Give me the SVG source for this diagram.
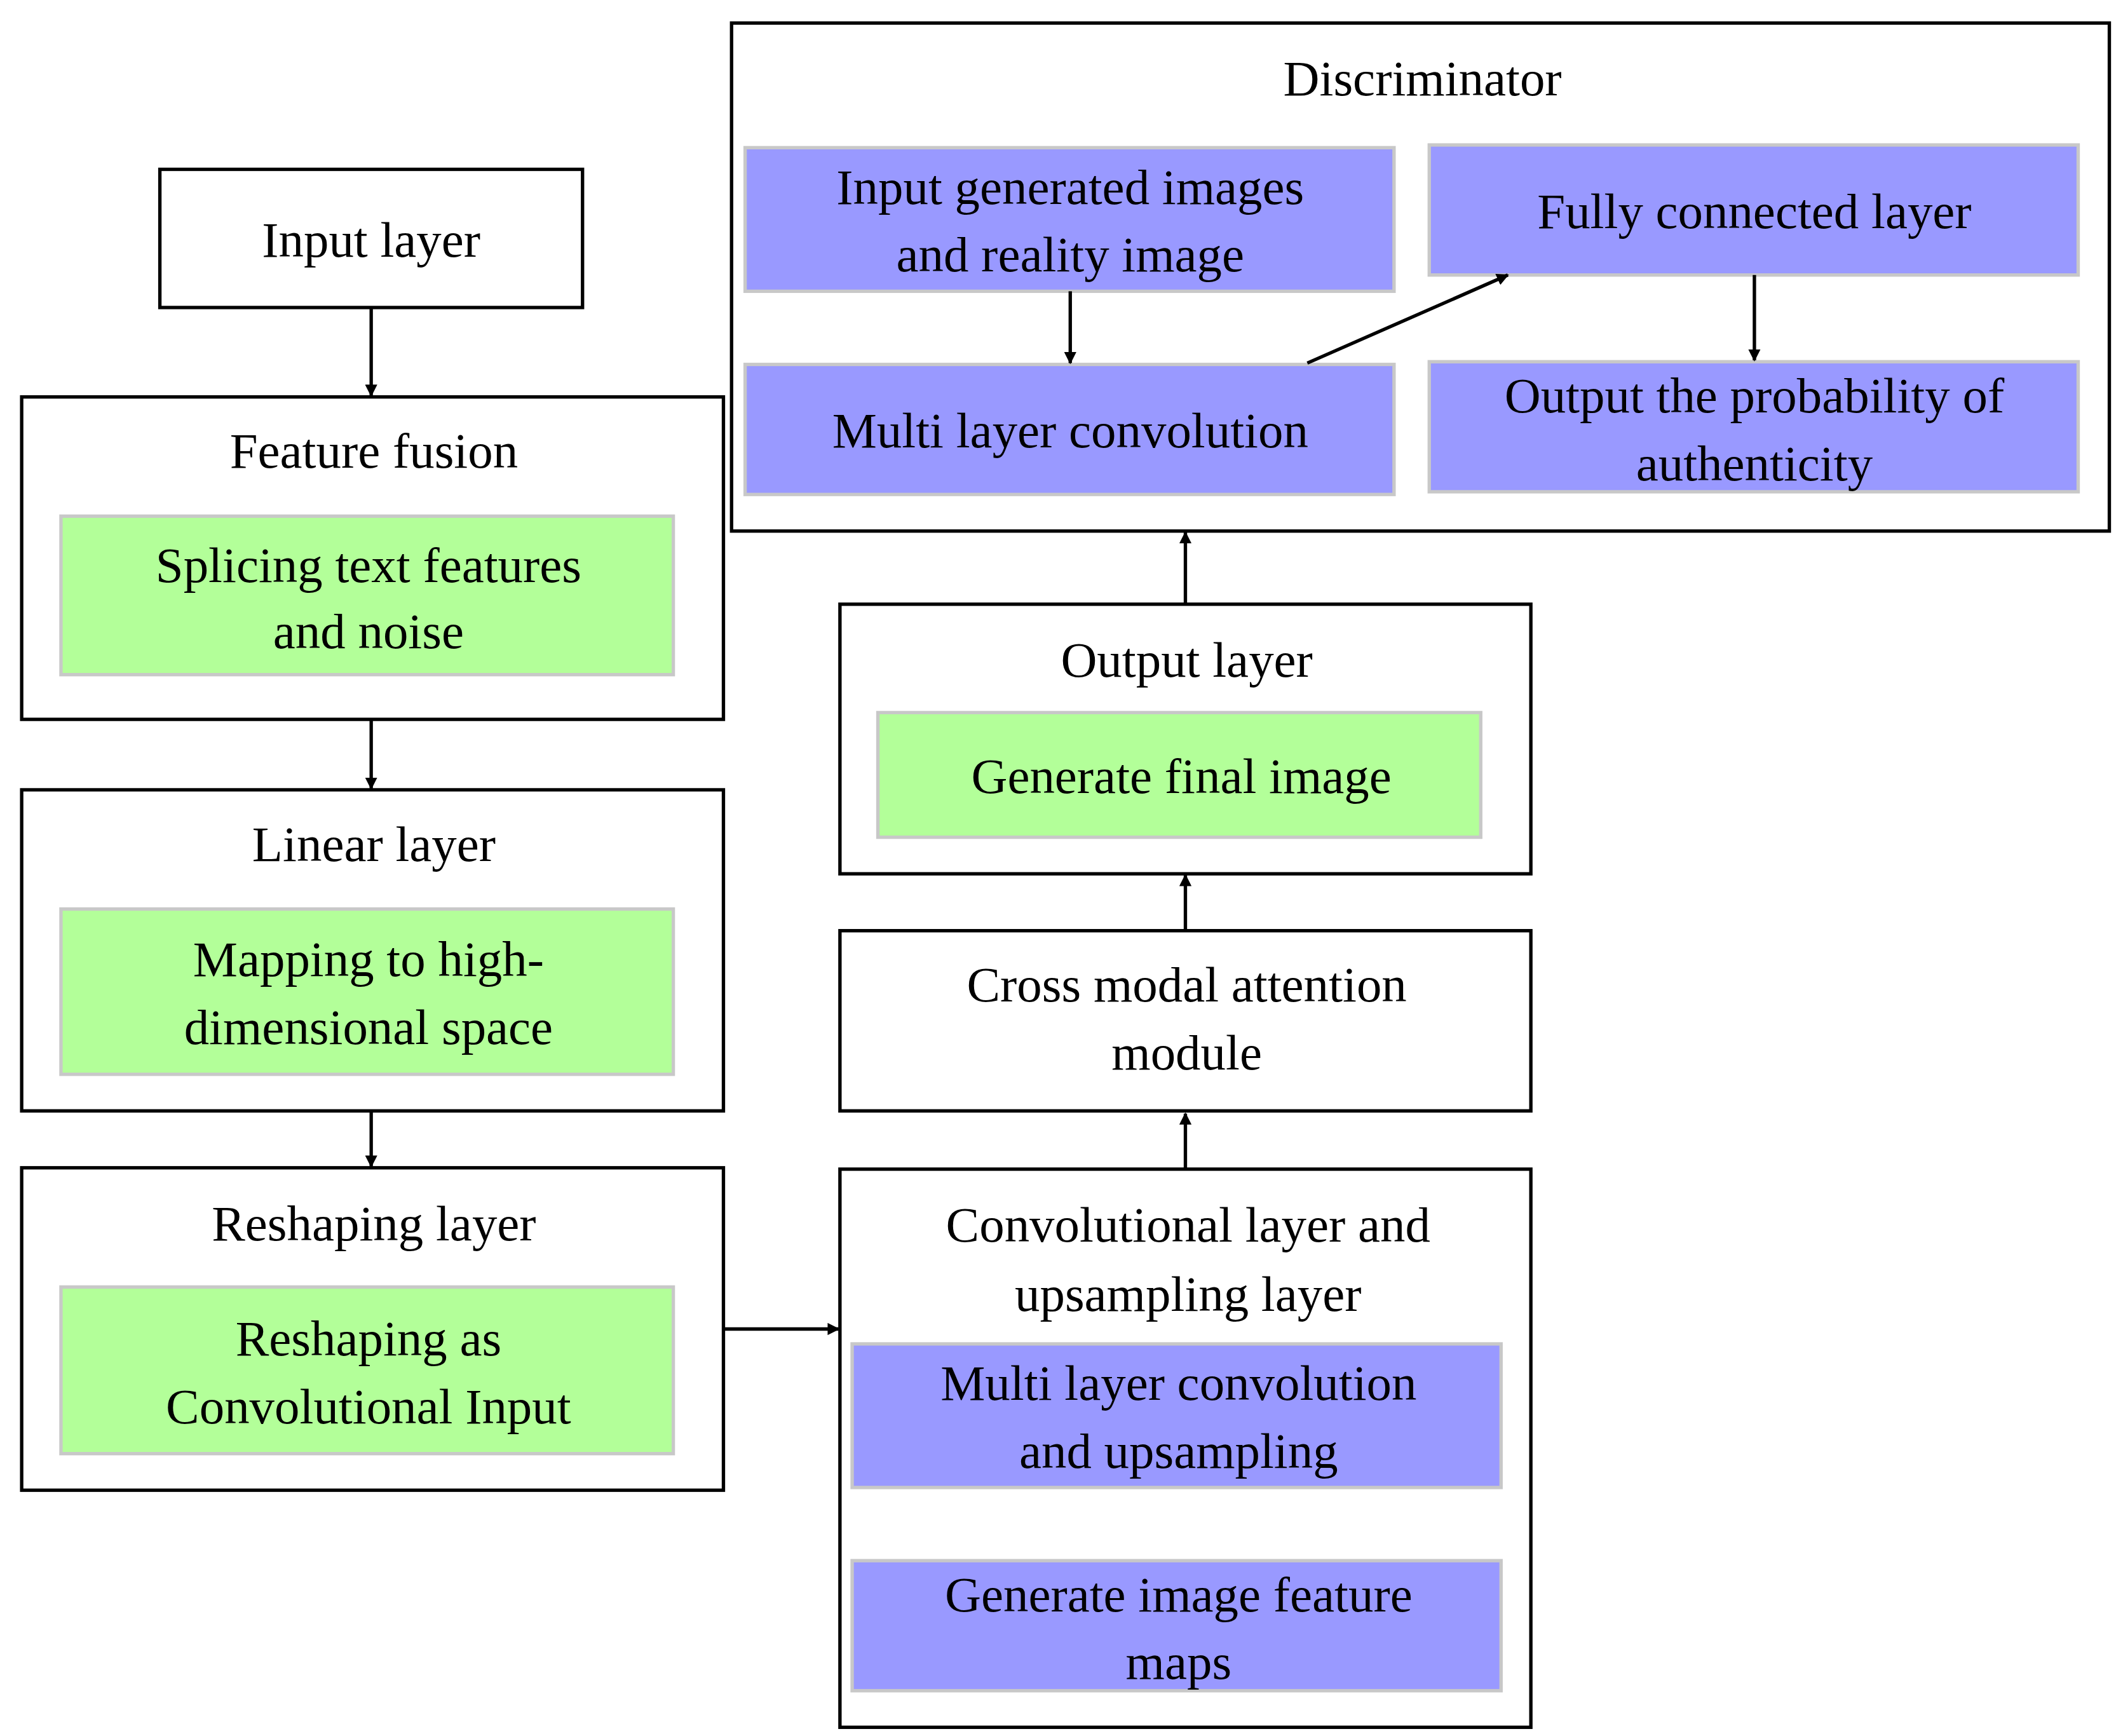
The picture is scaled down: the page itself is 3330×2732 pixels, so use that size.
<svg xmlns="http://www.w3.org/2000/svg" width="3330" height="2732" viewBox="0 0 3330 2732">
<defs>
<marker id="ah" viewBox="0 0 10 10" refX="9" refY="5" markerWidth="9" markerHeight="9" markerUnits="userSpaceOnUse" orient="auto"><path d="M0,0 L10,5 L0,10 z" fill="#000"/></marker>
<style>
.box{fill:#fff;stroke:#000;stroke-width:2.5}
.g{fill:#b3ff99;stroke:#c8c8c8;stroke-width:2.5}
.b{fill:#9999ff;stroke:#c8c8c8;stroke-width:2.5}
text{font-family:"Liberation Serif","Times New Roman",serif;font-size:37px;fill:#000;text-anchor:middle;dominant-baseline:central}
.c{stroke:#000;stroke-width:2.5;fill:none;marker-end:url(#ah)}
</style>
</defs>
<rect width="3330" height="2732" fill="#fff"/>
<g transform="scale(2.132)">
<g id="input"><rect class="box" x="118" y="125" width="312" height="102"/><text x="274" y="177">Input layer</text></g>
<g id="fusion"><rect class="box" x="16" y="293" width="518" height="238"/><text x="276" y="333">Feature fusion</text>
<rect class="g" x="45" y="381" width="452" height="117"/><text x="272" y="417">Splicing text features</text><text x="272" y="466">and noise</text></g>
<g id="linear"><rect class="box" x="16" y="583" width="518" height="237"/><text x="276" y="623">Linear layer</text>
<rect class="g" x="45" y="671" width="452" height="122"/><text x="272" y="708">Mapping to high-</text><text x="272" y="758">dimensional space</text></g>
<g id="reshape"><rect class="box" x="16" y="862" width="518" height="238"/><text x="276" y="903">Reshaping layer</text>
<rect class="g" x="45" y="950" width="452" height="123"/><text x="272" y="988">Reshaping as</text><text x="272" y="1038">Convolutional Input</text></g>
<g id="conv"><rect class="box" x="620" y="863" width="510" height="412"/><text x="877" y="904">Convolutional layer and</text><text x="877" y="955">upsampling layer</text>
<rect class="b" x="629" y="992" width="479" height="106"/><text x="870" y="1021">Multi layer convolution</text><text x="870" y="1071">and upsampling</text>
<rect class="b" x="629" y="1152" width="479" height="96"/><text x="870" y="1177">Generate image feature</text><text x="870" y="1227">maps</text></g>
<g id="cross"><rect class="box" x="620" y="687" width="510" height="133"/><text x="876" y="727">Cross modal attention</text><text x="876" y="777">module</text></g>
<g id="output"><rect class="box" x="620" y="446" width="510" height="199"/><text x="876" y="487">Output layer</text>
<rect class="g" x="648" y="526" width="445" height="92"/><text x="872" y="573">Generate final image</text></g>
<g id="disc"><rect class="box" x="540" y="17" width="1017" height="375"/><text x="1050" y="58">Discriminator</text>
<rect class="b" x="550" y="109" width="479" height="106"/><text x="790" y="138">Input generated images</text><text x="790" y="188">and reality image</text>
<rect class="b" x="1055" y="107" width="479" height="96"/><text x="1295" y="156">Fully connected layer</text>
<rect class="b" x="550" y="269" width="479" height="96"/><text x="790" y="318">Multi layer convolution</text>
<rect class="b" x="1055" y="267" width="479" height="96"/><text x="1295" y="292">Output the probability of</text><text x="1295" y="342">authenticity</text></g>
<g id="connectors">
<line class="c" x1="274" y1="227" x2="274" y2="292"/>
<line class="c" x1="274" y1="531" x2="274" y2="582"/>
<line class="c" x1="274" y1="820" x2="274" y2="861"/>
<line class="c" x1="534" y1="981" x2="619" y2="981"/>
<line class="c" x1="875" y1="863" x2="875" y2="822"/>
<line class="c" x1="875" y1="687" x2="875" y2="646"/>
<line class="c" x1="875" y1="446" x2="875" y2="393"/>
<line class="c" x1="790" y1="215" x2="790" y2="268"/>
<line class="c" x1="1295" y1="203" x2="1295" y2="266"/>
<line class="c" x1="965" y1="268" x2="1113" y2="203"/>
</g>
</g>
</svg>
